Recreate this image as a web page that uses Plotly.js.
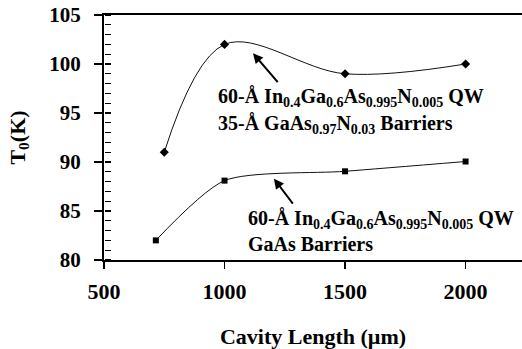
<!DOCTYPE html>
<html>
<head>
<meta charset="utf-8">
<script src="https://cdn.plot.ly/plotly-3.0.1.min.js"></script>
<style>html,body{margin:0;padding:0;background:#fff;}#chart{width:522px;height:349px;}</style>
</head>
<body>
<div id="chart"></div>
<script>
// Data
const cavityLengthA = [750, 1000, 1500, 2000];
const t0A = [91, 102, 99, 100];          // 35-Å GaAsN barriers (diamonds)
const cavityLengthB = [715, 1000, 1500, 2000];
const t0B = [82, 88.1, 89.05, 90.05];    // GaAs barriers (squares)
const xTicks = [500, 1000, 1500, 2000];
const yTicks = [80, 85, 90, 95, 100, 105];
const labelA = ["60-Å In<sub>0.4</sub>Ga<sub>0.6</sub>As<sub>0.995</sub>N<sub>0.005</sub> QW",
                "35-Å GaAs<sub>0.97</sub>N<sub>0.03</sub> Barriers"];
const labelB = ["60-Å In<sub>0.4</sub>Ga<sub>0.6</sub>As<sub>0.995</sub>N<sub>0.005</sub> QW",
                "GaAs Barriers"];

const serif = "Times New Roman, Liberation Serif, DejaVu Serif, serif";

const traces = [
  {x: cavityLengthA, y: t0A, mode: 'lines+markers', type: 'scatter',
   line: {shape: 'spline', smoothing: 1.0, color: '#111', width: 1},
   marker: {symbol: 'diamond', size: 7, color: '#000'}},
  {x: cavityLengthB, y: t0B, mode: 'lines+markers', type: 'scatter',
   line: {shape: 'spline', smoothing: 0.7, color: '#111', width: 1},
   marker: {symbol: 'square', size: 6, color: '#000'}},
  // invisible carrier trace so the minor-tick axis (y2) is drawn
  {x: cavityLengthA, y: t0A, mode: 'markers', type: 'scatter', yaxis: 'y2',
   marker: {opacity: 0, size: 1}, hoverinfo: 'skip'}
];

const txtFont = {family: serif, size: 20, color: '#000'};
function lbl(text, x, y) {
  return {text: '<b>' + text + '</b>', xref: 'paper', yref: 'paper', x: x, y: y, xanchor: 'left', yanchor: 'middle',
          showarrow: false, font: txtFont};
}
const px = v => (v - 104) / 418;
const py = v => (260 - v) / 245;

const annotations = [
  lbl(labelA[0], px(216), py(98)),
  lbl(labelA[1], px(216), py(124)),
  lbl(labelB[0], px(246), py(219)),
  lbl(labelB[1], px(246), py(244)),
  {x: 1118, y: 101.1, ax: 1226, ay: 98.0, xref: 'x', yref: 'y', axref: 'x', ayref: 'y',
   text: '', showarrow: true, arrowhead: 2, arrowsize: 1, arrowwidth: 2, arrowcolor: '#000'},
  {x: 1205, y: 88.3, ax: 1288, ay: 85.6, xref: 'x', yref: 'y', axref: 'x', ayref: 'y',
   text: '', showarrow: true, arrowhead: 2, arrowsize: 1, arrowwidth: 2, arrowcolor: '#000'}
];

const layout = {
  width: 522, height: 349,
  margin: {l: 104, r: 0, t: 15, b: 89},
  paper_bgcolor: '#fff', plot_bgcolor: '#fff',
  showlegend: false,
  font: {family: serif, color: '#000', size: 18},
  xaxis: {
    range: [500, 2234], tickmode: 'array', tickvals: xTicks, ticktext: xTicks.map(v => '<b>' + v + '</b>'),
    showgrid: false, zeroline: false, showline: true, linecolor: '#000', linewidth: 2, mirror: true,
    ticks: 'outside', ticklen: 7, tickwidth: 1.5, tickcolor: '#000', ticklabelstandoff: 4,
    tickfont: {family: serif, size: 22, color: '#000'},
    title: {text: '<b>Cavity Length (µm)</b>', font: {family: serif, size: 22, color: '#000'}, standoff: 30}
  },
  yaxis: {
    range: [80, 105], tickmode: 'array', tickvals: yTicks, ticktext: yTicks.map(v => '<b>' + v + '</b>'),
    showgrid: false, zeroline: false, showline: true, linecolor: '#000', linewidth: 2,
    ticks: 'outside', ticklen: 8, tickwidth: 1.5, tickcolor: '#000', ticklabelstandoff: 9,
    tickfont: {family: serif, size: 21, color: '#000'},
    title: {text: '<b>T<sub>0</sub>(K)</b>', font: {family: serif, size: 22, color: '#000'}, standoff: 18}
  },
  yaxis2: {
    overlaying: 'y', side: 'right', anchor: 'free', position: 0, range: [80, 105],
    tickmode: 'linear', tick0: 80, dtick: 1,
    ticks: 'outside', ticklen: 6, tickwidth: 1.3, tickcolor: '#000',
    showticklabels: false, showgrid: false, zeroline: false, showline: false
  },
  annotations: annotations
};

Plotly.newPlot('chart', traces, layout, {staticPlot: true, displayModeBar: false});
</script>
</body>
</html>
